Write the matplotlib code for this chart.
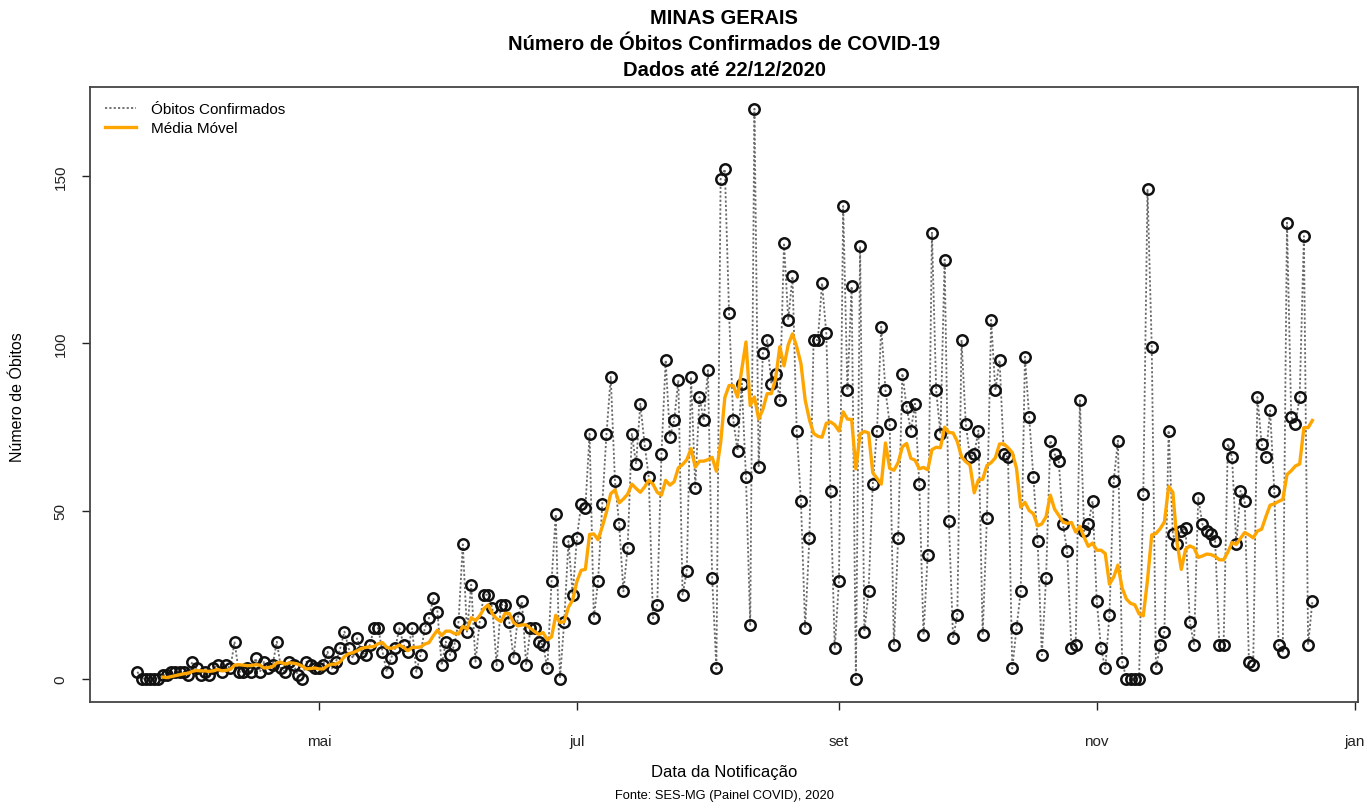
import matplotlib
matplotlib.use("Agg")
import matplotlib.pyplot as plt
import pandas as pd

plt.rcParams["font.family"] = ["Liberation Sans", "DejaVu Sans"]

INICIO = "2020-03-19"
FIM = "2020-12-22"

# óbitos diários, por mês
obitos_mar = [2, 0, 0, 0, 0, 0, 1, 1, 2, 2, 2, 2, 1]
obitos_abr = [5, 3, 1, 2, 1, 3, 4, 2, 4, 3, 11, 2, 2, 3, 2, 6, 2, 5, 3, 4,
              11, 3, 2, 5, 4, 1, 0, 5, 4, 3]
obitos_mai = [3, 4, 8, 3, 5, 9, 14, 9, 6, 12, 8, 7, 10, 15, 15, 8, 2, 6, 9, 15,
              10, 8, 15, 2, 7, 15, 18, 24, 20, 4, 11]
obitos_jun = [7, 10, 17, 40, 14, 28, 5, 17, 25, 25, 21, 4, 22, 22, 17, 6, 18, 23, 4, 15,
              15, 11, 10, 3, 29, 49, 0, 17, 41, 25]
obitos_jul = [42, 52, 51, 73, 18, 29, 52, 73, 90, 59, 46, 26, 39, 73, 64, 82, 70, 60, 18, 22,
              67, 95, 72, 77, 89, 25, 32, 90, 57, 84, 77]
obitos_ago = [92, 30, 3, 149, 152, 109, 77, 68, 88, 60, 16, 170, 63, 97, 101, 88, 91, 83, 130, 107,
              120, 74, 53, 15, 42, 101, 101, 118, 103, 56, 9]
obitos_set = [29, 141, 86, 117, 0, 129, 14, 26, 58, 74, 105, 86, 76, 10, 42, 91, 81, 74, 82, 58,
              13, 37, 133, 86, 73, 125, 47, 12, 19, 101]
obitos_out = [76, 66, 67, 74, 13, 48, 107, 86, 95, 67, 66, 3, 15, 26, 96, 78, 60, 41, 7, 30,
              71, 67, 65, 46, 38, 9, 10, 83, 44, 46, 53]
obitos_nov = [23, 9, 3, 19, 59, 71, 5, 0, 0, 0, 0, 55, 146, 99, 3, 10, 14, 74, 43, 40,
              44, 45, 17, 10, 54, 46, 44, 43, 41, 10]
obitos_dez = [10, 70, 66, 40, 56, 53, 5, 4, 84, 70, 66, 80, 56, 10, 8, 136, 78, 76, 84, 132,
              10, 23]

ticks_datas = ["2020-05-01", "2020-07-01", "2020-09-01", "2020-11-01", "2021-01-01"]
ticks_nomes = ["mai", "jul", "set", "nov", "jan"]
ticks_y = [0, 50, 100, 150]

obitos = (obitos_mar + obitos_abr + obitos_mai + obitos_jun + obitos_jul
          + obitos_ago + obitos_set + obitos_out + obitos_nov + obitos_dez)
datas = pd.date_range(INICIO, FIM, freq="D")
serie = pd.Series(obitos, index=datas)
media_movel = serie.rolling(7).mean()

W, H = 1372, 803
fig = plt.figure(figsize=(W / 100, H / 100), dpi=100)
ax = fig.add_axes([90 / W, 1 - 703 / H, (1358 - 90) / W, (703 - 88) / H])

ax.plot(datas, obitos, color="#6a6a6a", lw=1.3, ls=(0, (1.2, 1.2)),
        label="Óbitos Confirmados", zorder=2)
ax.plot(datas, obitos, ls="none", marker="o", ms=7.5, mfc="none",
        mec="#111111", mew=1.8, zorder=3)
ax.plot(media_movel.index, media_movel.values, color="#FFA500", lw=2.4,
        label="Média Móvel", zorder=4)

inicio = pd.Timestamp(INICIO)
ax.set_xlim(inicio - pd.Timedelta(days=11.2), inicio + pd.Timedelta(days=288.8))
ax.set_ylim(-7.0, 176.5)

ax.set_xticks(pd.to_datetime(ticks_datas))
ax.set_xticklabels(ticks_nomes, fontsize=11)
ax.set_yticks(ticks_y)
ax.set_yticklabels([str(v) for v in ticks_y], rotation=90, va="center", fontsize=11)
ax.tick_params(axis="x", length=6, width=1, pad=17, colors="#222222")
ax.tick_params(axis="y", length=6, width=1, pad=10, colors="#222222")

for sp in ax.spines.values():
    sp.set_color("#444444")
    sp.set_linewidth(1.3)

ax.legend(loc="upper left", bbox_to_anchor=(0.0, 1.0), frameon=False,
          fontsize=11, handlelength=2.0, handletextpad=1.0,
          borderaxespad=0.6, labelspacing=0.3)

cx = (90 + 1358) / 2 / W
titulos = ["MINAS GERAIS", "Número de Óbitos Confirmados de COVID-19", "Dados até 22/12/2020"]
for txt, y in zip(titulos, [19, 45, 70]):
    fig.text(cx, 1 - y / H, txt, ha="center", va="center", fontsize=14.5, fontweight="bold")

fig.text(cx, 1 - 773 / H, "Data da Notificação", ha="center", va="center", fontsize=12)
fig.text(cx, 1 - 796 / H, "Fonte: SES-MG (Painel COVID), 2020", ha="center",
         va="center", fontsize=9.3)
fig.text(18 / W, 1 - 397 / H, "Número de Óbitos", ha="center", va="center",
         rotation=90, fontsize=11.5)

fig.savefig("out.png", dpi=100)
